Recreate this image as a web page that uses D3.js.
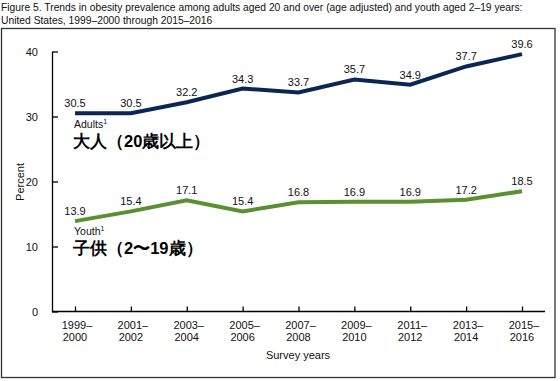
<!DOCTYPE html>
<html><head><meta charset="utf-8">
<script src="https://cdn.jsdelivr.net/npm/d3@7"></script>
<style>body{margin:0;background:#fff}svg{display:block}text{font-family:"Liberation Sans",Arial,sans-serif}</style>
</head><body><svg id="c" width="560" height="381"></svg>
<script>
const periods = ["1999–2000","2001–2002","2003–2004","2005–2006","2007–2008","2009–2010","2011–2012","2013–2014","2015–2016"];
const adults = [30.5,30.5,32.2,34.3,33.7,35.7,34.9,37.7,39.6];
const youth = [13.9,15.4,17.1,15.4,16.8,16.9,16.9,17.2,18.5];
const yTicks = [0,10,20,30,40];
const titleLines = ["Figure 5. Trends in obesity prevalence among adults aged 20 and over (age adjusted) and youth aged 2–19 years:","United States, 1999–2000 through 2015–2016"];

const svg = d3.select("#c");
svg.selectAll("text.t").data(titleLines).join("text").attr("class","t")
  .attr("x",1).attr("y",(d,i)=>11+i*12.5).attr("font-size",10.3).attr("fill","#111").text(d=>d);
svg.append("rect").attr("x",1.5).attr("y",28.5).attr("width",553.5).attr("height",349).attr("fill","none").attr("stroke","#333").attr("stroke-width",1.3);

const x = d3.scalePoint().domain(periods).range([75,522]);
const y = d3.scaleLinear().domain([0,40]).range([311.5,51.5]);

// y axis
const ya = svg.append("g").attr("transform","translate(52,0)")
  .call(d3.axisLeft(y).tickValues(yTicks).tickSize(-6).tickPadding(14).tickSizeOuter(0));
ya.select(".domain").attr("stroke","#000").attr("stroke-width",1.3);
ya.selectAll(".tick line").attr("stroke","#000").attr("stroke-width",1.3);
ya.selectAll("text").attr("font-size",11).attr("fill","#111").attr("font-family","Liberation Sans, Arial, sans-serif");

// x axis
svg.append("line").attr("x1",52).attr("x2",545).attr("y1",y(0)).attr("y2",y(0)).attr("stroke","#000").attr("stroke-width",1.3);
const xa = svg.append("g").attr("transform",`translate(0,${y(0)})`)
  .call(d3.axisBottom(x).tickSize(-5).tickSizeOuter(0).tickFormat(""));
xa.select(".domain").remove();
xa.selectAll(".tick line").attr("stroke","#000").attr("stroke-width",1.3);
const xl = svg.append("g");
periods.forEach(p=>{
  const parts = p.split("–");
  const t = xl.append("text").attr("x",x(p)).attr("text-anchor","middle").attr("font-size",11).attr("fill","#111");
  t.append("tspan").attr("x",x(p)+2).attr("y",329).text(parts[0]+"–");
  t.append("tspan").attr("x",x(p)).attr("y",341).text(parts[1]);
});
svg.append("text").attr("x",298).attr("y",359).attr("text-anchor","middle").attr("font-size",11).attr("fill","#111").text("Survey years");
svg.append("text").attr("transform","translate(24,182) rotate(-90)").attr("text-anchor","middle").attr("font-size",11).attr("fill","#111").text("Percent");

const line = d3.line().x((d,i)=>x(periods[i])).y(d=>y(d));
function series(vals,color){
  svg.append("path").datum(vals).attr("d",line).attr("fill","none").attr("stroke",color).attr("stroke-width",4).attr("stroke-linejoin","miter");
  svg.append("g").selectAll("text").data(vals).join("text")
    .attr("x",(d,i)=>x(periods[i])).attr("y",d=>y(d)-6).attr("text-anchor","middle")
    .attr("font-size",11).attr("fill","#111").text(d=>d.toFixed(1));
}
series(adults,"#0b2653");
series(youth,"#5a9130");

function note(label,jp,by){
  const t = svg.append("text").attr("x",74).attr("y",by).attr("font-size",10.5).attr("fill","#111");
  t.append("tspan").text(label);
  t.append("tspan").attr("font-size",7).attr("dy",-4).text("1");
  svg.append("text").attr("x",73).attr("y",by+19).attr("font-size",16.5).attr("font-weight","bold").attr("fill","#000")
    .attr("font-family","'Noto Sans CJK JP',sans-serif").text(jp);
}
note("Adults","大人（20歳以上）",128);
note("Youth","子供（2〜19歳）",235);
</script></body></html>
